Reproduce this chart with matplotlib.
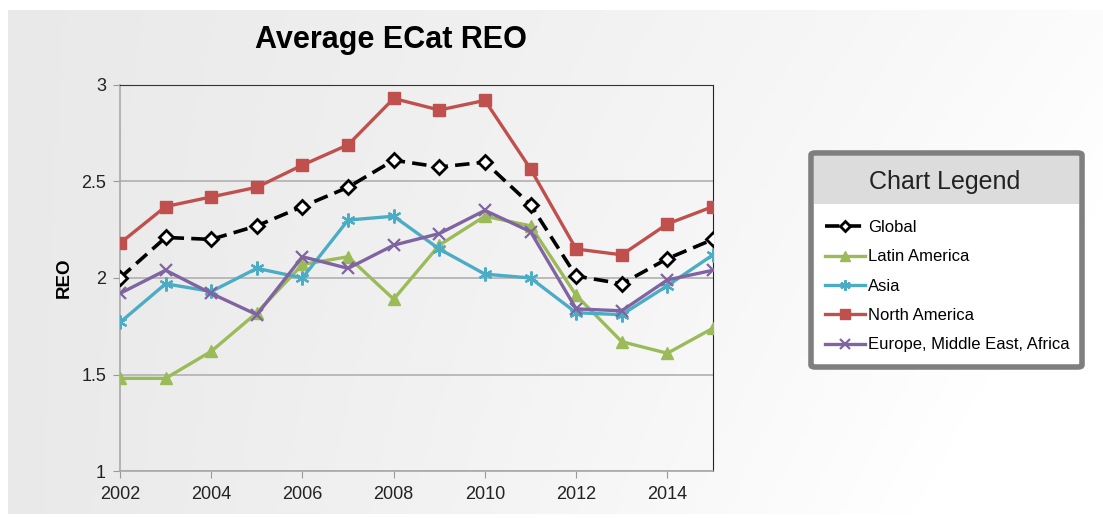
import numpy as np
import matplotlib.pyplot as plt
from matplotlib.patches import FancyBboxPatch, Rectangle

plt.rcParams['font.family'] = ['Liberation Sans', 'DejaVu Sans']

years = list(range(2002, 2016))
global_reo = [2.00, 2.21, 2.20, 2.27, 2.37, 2.47, 2.61, 2.575, 2.60, 2.38, 2.01, 1.97, 2.10, 2.20]
latin_america = [1.48, 1.48, 1.62, 1.82, 2.07, 2.11, 1.89, 2.17, 2.32, 2.27, 1.91, 1.67, 1.61, 1.74]
asia = [1.77, 1.97, 1.93, 2.05, 2.00, 2.30, 2.32, 2.15, 2.02, 2.00, 1.82, 1.81, 1.96, 2.12]
north_america = [2.18, 2.37, 2.42, 2.47, 2.585, 2.69, 2.93, 2.87, 2.92, 2.565, 2.15, 2.12, 2.28, 2.37]
emea = [1.92, 2.04, 1.92, 1.81, 2.11, 2.05, 2.17, 2.23, 2.35, 2.24, 1.84, 1.83, 1.99, 2.04]

y_ticks = [1, 1.5, 2, 2.5, 3]
x_ticks = [2002, 2004, 2006, 2008, 2010, 2012, 2014]

fig = plt.figure(figsize=(11.03, 5.18), dpi=100)

# slide background: light grey on the left, fading to white toward the top right
bg = fig.add_axes([0.007, 0.008, 0.993, 0.972], zorder=-10)
gx, gy = np.meshgrid(np.linspace(0, 1, 300), np.linspace(1, 0, 120))
light = np.clip(0.6 * gx + 0.4 * (1 - gy) * gx + 0.25 * gx * gx, 0, 1)
shade = 0.915 + 0.085 * light
bg.imshow(np.dstack([shade, shade, shade]), aspect='auto', extent=[0, 1, 0, 1])
bg.set_axis_off()

ax = fig.add_axes([0.1088, 0.0907, 0.5376, 0.7453])
ax.patch.set_alpha(0)

ax.plot(years, global_reo, color='black', lw=2.6, ls=(0, (4, 2)), marker='D', ms=7,
        mfc='white', mec='black', mew=2, label='Global', zorder=6)
ax.plot(years, latin_america, color='#9BBB59', lw=2.4, marker='^', ms=9,
        label='Latin America', zorder=3)
ax.plot(years, asia, color='#4BACC6', lw=2.4, marker=(6, 2, 0), ms=10, mew=1.6,
        label='Asia', zorder=4)
ax.plot(years, north_america, color='#C0504D', lw=2.4, marker='s', ms=9,
        label='North America', zorder=5)
ax.plot(years, emea, color='#8064A2', lw=2.4, marker='x', ms=9, mew=1.6,
        label='Europe, Middle East, Africa', zorder=4)

ax.set_xlim(2002, 2015)
ax.set_ylim(1, 3)
ax.set_yticks(y_ticks)
ax.set_yticklabels(['1', '1.5', '2', '2.5', '3'])
ax.set_xticks(x_ticks)
ax.tick_params(axis='both', labelsize=13, labelcolor='#222222', color='#999999', length=5)
ax.tick_params(axis='y', pad=5)
ax.tick_params(axis='x', pad=6)
ax.grid(axis='y', color='#b0b0b0', lw=1.2)
ax.set_axisbelow(True)
for side in ['left', 'bottom']:
    ax.spines[side].set_color('#a8a8a8')
    ax.spines[side].set_linewidth(1.2)
ax.spines['top'].set_color('#333333')
ax.spines['right'].set_color('#222222')
ax.set_ylabel('REO', fontsize=13.5, fontweight='bold', labelpad=6)

fig.text(0.354, 0.922, 'Average ECat REO', ha='center', va='center',
         fontsize=22, fontweight='bold')

# legend panel with grey header strip
x0, y0, w, h = 811 / 1103, 1 - 367 / 518, 271 / 1103, 214 / 518
fig.patches.append(FancyBboxPatch((x0, y0), w, h, boxstyle='round,pad=0,rounding_size=0.004',
                                  transform=fig.transFigure, fc='white', ec='#7f7f7f',
                                  lw=4, zorder=1))
head_h = 48 / 518
fig.patches.append(Rectangle((x0 + 0.003, y0 + h - head_h - 0.006), w - 0.006, head_h,
                             transform=fig.transFigure, fc='#dcdcdc', ec='none', zorder=2))
fig.text(x0 + w / 2 - 0.002, 1 - 182 / 518, 'Chart Legend', ha='center', va='center',
         fontsize=18, color='#222222', zorder=3)

handles, labels = ax.get_legend_handles_labels()
leg = fig.legend(handles, labels, loc='upper left', bbox_to_anchor=(x0 - 0.001, 1 - 205 / 518),
                 frameon=False, fontsize=12, handlelength=2.4, handletextpad=0.2,
                 labelspacing=0.86, markerscale=0.75)
leg.set_zorder(4)

fig.savefig('out.png', dpi=100)
